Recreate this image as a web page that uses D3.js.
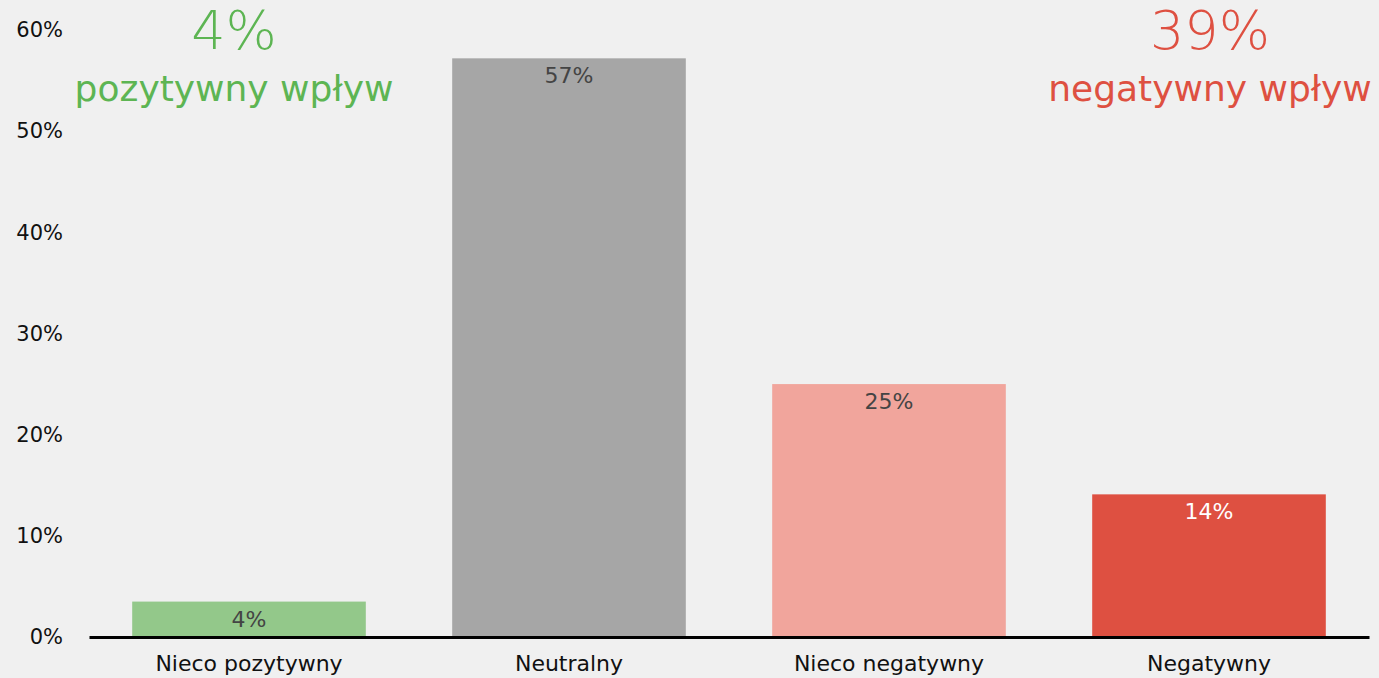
<!DOCTYPE html>
<html>
<head>
  <meta charset="utf-8">
  <title>Wpływ</title>
  <style>
    body { margin: 0; background: #f0f0f0; }
    text { font-family: "DejaVu Sans", sans-serif; }
  </style>
</head>
<body>
<script src="https://cdnjs.cloudflare.com/ajax/libs/d3/7.8.5/d3.min.js"></script>
<script>
  // data
  var categories = ["Nieco pozytywny", "Neutralny", "Nieco negatywny", "Negatywny"];
  var values = [3.5, 57.2, 25.0, 14.1];
  var valueLabels = ["4%", "57%", "25%", "14%"];
  var barColors = ["#93c88a", "#a6a6a6", "#f1a59c", "#de5041"];
  var labelColors = ["#444444", "#444444", "#444444", "#ffffff"];
  var yTicks = [0, 10, 20, 30, 40, 50, 60];
  var summaryValues = ["4%", "39%"];
  var summaryTexts = ["pozytywny wpływ", "negatywny wpływ"];

  var W = 1379, H = 678;
  var margin = {top: 30, right: 10, bottom: 41, left: 89};

  var svg = d3.select("body").append("svg")
    .attr("width", W)
    .attr("height", H);

  svg.append("rect").attr("width", W).attr("height", H).attr("fill", "#f0f0f0");

  var x = d3.scaleBand()
    .domain(categories)
    .range([margin.left, W - margin.right])
    .paddingInner(0.27)
    .paddingOuter(0.135);

  var y = d3.scaleLinear()
    .domain([0, 60])
    .range([H - margin.bottom, margin.top]);

  // y axis labels
  var yAxis = svg.append("g")
    .attr("transform", "translate(" + 63 + ",0)")
    .call(d3.axisLeft(y).tickValues(yTicks).tickFormat(function(d){ return d + "%"; }).tickSize(0).tickPadding(0));
  yAxis.select(".domain").remove();
  yAxis.selectAll("text")
    .attr("fill", "#111")
    .style("font-size", "21px")
    .style("font-family", "DejaVu Sans, sans-serif");

  // bars
  svg.selectAll("rect.bar")
    .data(values)
    .enter()
    .append("rect")
    .attr("class", "bar")
    .attr("x", function(d, i){ return x(categories[i]); })
    .attr("y", function(d){ return y(d); })
    .attr("width", x.bandwidth())
    .attr("height", function(d){ return y(0) - y(d); })
    .attr("fill", function(d, i){ return barColors[i]; });

  // value labels
  svg.selectAll("text.val")
    .data(values)
    .enter()
    .append("text")
    .attr("class", "val")
    .attr("x", function(d, i){ return x(categories[i]) + x.bandwidth() / 2; })
    .attr("y", function(d){ return y(d) + 25; })
    .attr("text-anchor", "middle")
    .attr("fill", function(d, i){ return labelColors[i]; })
    .style("font-size", "22px")
    .text(function(d, i){ return valueLabels[i]; });

  // x axis
  var xAxis = svg.append("g")
    .attr("transform", "translate(0," + y(0) + ")")
    .call(d3.axisBottom(x).tickSize(0).tickPadding(18));
  xAxis.select(".domain")
    .attr("stroke", "#000")
    .attr("stroke-width", 3);
  xAxis.selectAll("text")
    .attr("fill", "#111")
    .style("font-size", "22px")
    .style("font-family", "DejaVu Sans, sans-serif");

  // summary annotations
  var sumX = [x(categories[0]) + x.bandwidth() / 2 - 15, x(categories[3]) + x.bandwidth() / 2 + 1];
  var sumColors = ["#5db553", "#de5041"];
  var sums = svg.selectAll("g.sum")
    .data(summaryValues)
    .enter()
    .append("g")
    .attr("class", "sum")
    .attr("transform", function(d, i){ return "translate(" + sumX[i] + ",0)"; });

  sums.append("text")
    .attr("y", 49)
    .attr("text-anchor", "middle")
    .attr("fill", function(d, i){ return sumColors[i]; })
    .style("font-size", "54px")
    .style("font-weight", "300")
    .text(function(d){ return d; });

  sums.append("text")
    .attr("y", 101)
    .attr("text-anchor", "middle")
    .attr("fill", function(d, i){ return sumColors[i]; })
    .style("font-size", "36px")
    .text(function(d, i){ return summaryTexts[i]; });
</script>
</body>
</html>
